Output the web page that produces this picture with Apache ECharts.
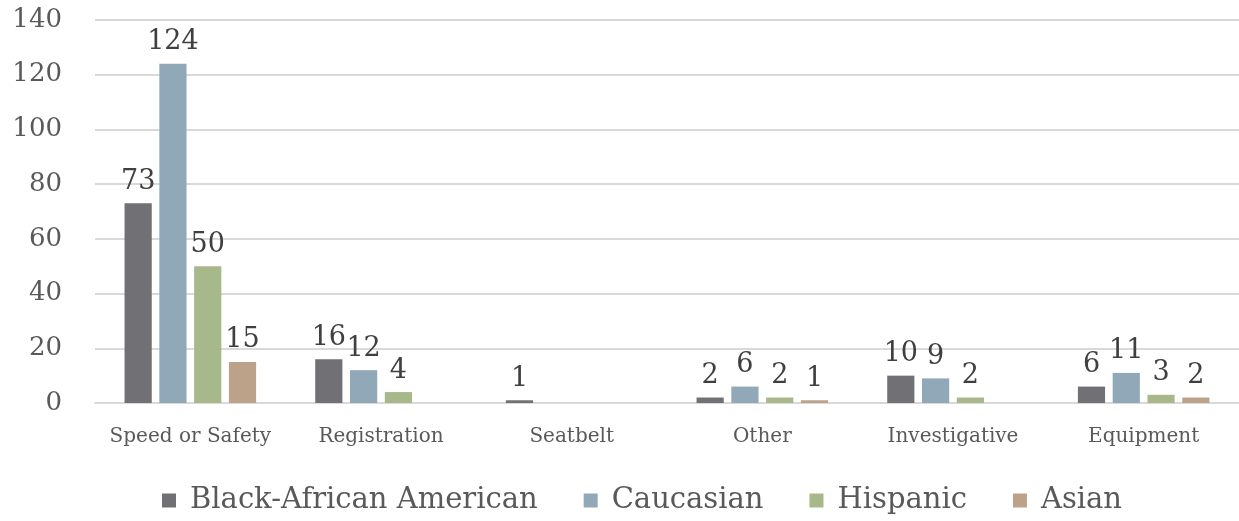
<!DOCTYPE html>
<html><head><meta charset="utf-8">
<script src="https://cdn.jsdelivr.net/npm/echarts@6/dist/echarts.min.js"></script>
<style>html,body{margin:0;padding:0;background:#fff}#c{width:1239px;height:521px}</style>
</head><body><div id="c"></div>
<script>
const categories = ['Speed or Safety','Registration','Seatbelt','Other','Investigative','Equipment'];
const seriesNames = ['Black-African American','Caucasian','Hispanic','Asian'];
const black = [73,16,1,2,10,6];
const caucasian = [124,12,0,6,9,11];
const hispanic = [50,4,0,2,2,3];
const asian = [15,0,0,1,0,2];
const yTicks = [0,20,40,60,80,100,120,140];
const colors = ['#717075','#91a8b8','#a7b88a','#bca288'];
const font = 'DejaVu Serif';
const chart = echarts.init(document.getElementById('c'));
const mk = (name, data, i) => ({
  name, type:'bar', data, barGap:'28%', barCategoryGap:'31%',
  itemStyle:{color:colors[i]},
  label:{show:true, position:'top', distance:8, color:'#404040', fontFamily:font, fontSize:27,
    formatter:p=>p.value===0?'':String(p.value)}
});
chart.setOption({
  animation:false,
  color:colors,
  grid:{left:95,right:0,top:20,bottom:118},
  legend:{bottom:1,left:157,itemWidth:14,itemHeight:14,itemGap:46,icon:'rect',
    textStyle:{fontFamily:font,fontSize:29,color:'#595959',padding:[0,0,0,9]},data:seriesNames},
  xAxis:{type:'category',data:categories,axisTick:{show:false},
    axisLine:{lineStyle:{color:'#d9d9d9',width:2}},
    axisLabel:{interval:0,fontFamily:font,fontSize:20,color:'#595959',margin:24}},
  yAxis:{type:'value',min:yTicks[0],max:yTicks[yTicks.length-1],interval:20,
    axisLine:{show:false},axisTick:{show:false},
    splitLine:{lineStyle:{color:'#d9d9d9',width:2}},
    axisLabel:{fontFamily:font,fontSize:26,color:'#595959',margin:33}},
  series:[mk(seriesNames[0],black,0),mk(seriesNames[1],caucasian,1),mk(seriesNames[2],hispanic,2),mk(seriesNames[3],asian,3)]
});
</script></body></html>
